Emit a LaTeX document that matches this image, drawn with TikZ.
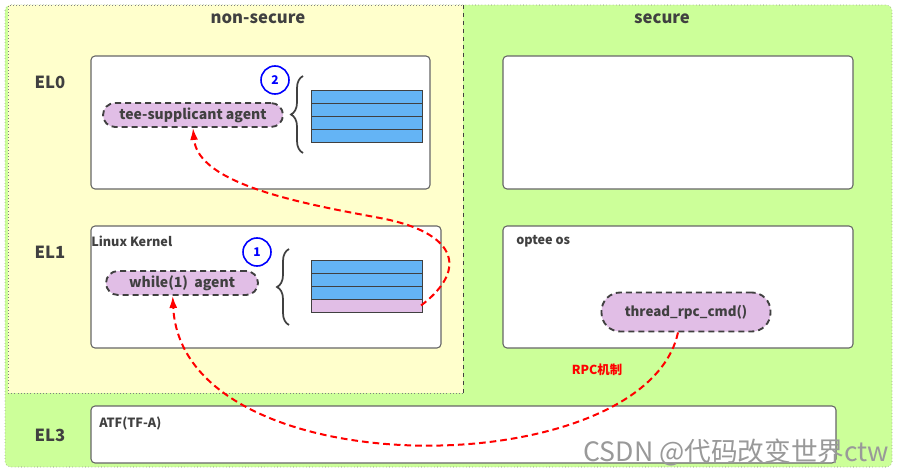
\documentclass[tikz,border=0pt]{standalone}
\usepackage{fontspec}
\setmainfont{Noto Sans CJK SC}
\newfontfamily\cjk{Noto Sans CJK SC}
\usetikzlibrary{arrows.meta,decorations.pathreplacing}
\definecolor{nsbg}{RGB}{255,255,204}
\definecolor{sbg}{RGB}{204,255,153}
\definecolor{pillfill}{RGB}{225,190,230}
\definecolor{rowblue}{RGB}{100,180,245}
\definecolor{ink}{RGB}{64,64,64}

\begin{document}
\begin{tikzpicture}[x=0.75pt,y=-0.75pt,
  box/.style={draw=ink!80,fill=white,rounded corners=3pt,line width=0.8pt,inner sep=0pt},
  pill/.style={draw=ink,fill=pillfill,dash pattern=on 4.5pt off 3pt,line width=1.4pt,rounded corners=9pt,inner sep=0pt,font=\bfseries\fontsize{10.5}{12}\selectfont,text=ink},
  row/.style={draw=ink,fill=rowblue,line width=0.6pt,minimum width=83.25pt,minimum height=9.75pt,inner sep=0pt},
  num/.style={circle,draw=blue,line width=1.2pt,minimum size=21pt,inner sep=0pt,text=blue,font=\bfseries\fontsize{9}{10}\selectfont},
  level/.style={font=\bfseries\fontsize{12.5}{14}\selectfont,text=ink},
  tag/.style={anchor=west,inner sep=0pt,font=\bfseries\fontsize{9.5}{11}\selectfont,text=ink},
  brace/.style={decorate,decoration={brace,amplitude=9pt},draw=ink,line width=1.3pt},
  flow/.style={draw=red,line width=1.5pt,dash pattern=on 5pt off 3pt,-{Latex[length=9pt,width=6pt]}}]
\useasboundingbox (0,0) rectangle (902,474);
\fill[sbg,rounded corners=4pt] (5,5) rectangle (892,467);
\draw[gray,dotted,rounded corners=4pt] (5,5) rectangle (892,467);
\fill[nsbg] (8,5) rectangle (463,393);
\draw[gray,dotted] (463,393) -- (8,393) -- (8,5) -- (463,5);
\draw[ink,dashed,line width=0.6pt] (463,5) -- (463,393);

\node[level] (nstitle) at (258,19) {non-secure};
\node[level] (stitle) at (662,19) {secure};
\node[level] (el0) at (50,82) {EL0};
\node[level] (el1) at (50,252) {EL1};
\node[level] (el3) at (50,435) {EL3};

\node[box,minimum width=254.25pt,minimum height=99.75pt] (ns0) at (260.5,122.5) {};
\node[box,minimum width=262.5pt,minimum height=99.75pt] (s0) at (678,122.5) {};
\node[box,minimum width=262.5pt,minimum height=91.5pt] (ns1) at (266,287) {};
\node[box,minimum width=262.5pt,minimum height=91.5pt] (s1) at (678,287) {};
\node[box,minimum width=558.75pt,minimum height=42.75pt] (el3box) at (463.5,434.5) {};

\node[tag] (kernel) at (91,241) {Linux Kernel};
\node[tag] (optee) at (516,241) {optee os};
\node[tag] (atf) at (99,423) {ATF(TF-A)};

\node[pill,minimum width=135pt,minimum height=18pt] (tee) at (193,115) {tee-supplicant agent};
\node[pill,minimum width=114pt,minimum height=18pt] (loop) at (182,283) {while(1)\ \ agent};
\node[pill,minimum width=126.75pt,minimum height=29.25pt,rounded corners=14pt,font=\bfseries\fontsize{10}{12}\selectfont] (rpc) at (686,312) {thread\_rpc\_cmd()};

\node[num] (n2) at (275,80) {2};
\node[num] (n1) at (257,252) {1};

\draw[brace] (303,153) -- (303,76);
\draw[brace] (289,325) -- (289,249);

\node[row] (q0a) at (366.5,96.5) {};
\node[row] (q0b) at (366.5,109.5) {};
\node[row] (q0c) at (366.5,122.5) {};
\node[row] (q0d) at (366.5,135.5) {};
\node[row] (q1a) at (366.5,266.5) {};
\node[row] (q1b) at (366.5,279.5) {};
\node[row] (q1c) at (366.5,292.5) {};
\node[row,fill=pillfill] (q1d) at (366.5,305.5) {};

\node[text=red,font=\cjk\bfseries\fontsize{9.3}{11}\selectfont] (rpclabel) at (597,370) {RPC机制};

\draw[flow] ([xshift=-6pt]rpc.south) .. controls (645,485) and (182,490) .. ([xshift=-7pt]loop.south);
\draw[flow] ([xshift=-1pt]q1d.east) .. controls (470,268) and (455,232) .. (380,218)
  .. controls (305,204) and (198,185) .. (tee.south);

\node[anchor=east,text=gray!80,font=\cjk\fontsize{20}{22}\selectfont] (mark) at (894,452) {CSDN @代码改变世界ctw};
\end{tikzpicture}
\end{document}
